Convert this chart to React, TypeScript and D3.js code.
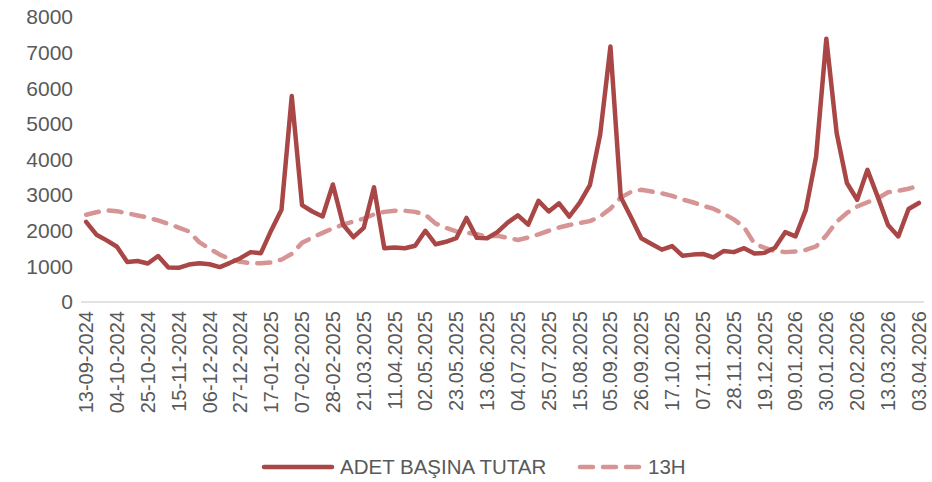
import React, { useEffect, useRef } from 'react';
import * as d3 from 'd3';

// weekly series, 13-09-2024 .. 03.04.2026 (82 weeks)
const adetBasinaTutar = [
  2250, 1890, 1730, 1550, 1120, 1150, 1080, 1290, 970, 960,
  1050, 1090, 1060, 980, 1100, 1230, 1400, 1370, 2010, 2590,
  5780, 2720, 2540, 2400, 3300, 2170, 1820, 2080, 3220, 1510,
  1530, 1510, 1580, 2000, 1620, 1690, 1790, 2360, 1800, 1790,
  1960, 2230, 2430, 2170, 2840, 2540, 2770, 2400, 2780, 3280,
  4700, 7170, 2950, 2380, 1790, 1630, 1470, 1570, 1300, 1330,
  1350, 1250, 1430, 1400, 1510, 1360, 1380, 1520, 1960, 1840,
  2580, 4070, 7390, 4750, 3340, 2870, 3710, 2950, 2160, 1840,
  2610, 2780,
];

const h13 = [
  2450, 2520, 2570, 2550, 2490, 2430, 2370, 2290, 2190, 2090,
  1980, 1680, 1500, 1330, 1200, 1130, 1090, 1090, 1110, 1190,
  1350, 1660, 1810, 1940, 2070, 2170, 2260, 2340, 2460, 2530,
  2560, 2560, 2530, 2450, 2200, 2080, 1980, 1950, 1900, 1840,
  1860, 1800, 1740, 1810, 1900, 2000, 2090, 2160, 2220, 2270,
  2400, 2620, 2930, 3090, 3150, 3100, 3050, 2980, 2880, 2800,
  2700, 2620, 2480, 2320, 2100, 1640, 1520, 1430, 1400, 1420,
  1460, 1560, 1870, 2250, 2500, 2680, 2800, 2910, 3080, 3120,
  3180, 3260,
];

// every third week is labelled
const tickLabels = [
  '13-09-2024', '04-10-2024', '25-10-2024', '15-11-2024', '06-12-2024',
  '27-12-2024', '17-01-2025', '07-02-2025', '28-02-2025', '21.03.2025',
  '11.04.2025', '02.05.2025', '23.05.2025', '13.06.2025', '04.07.2025',
  '25.07.2025', '15.08.2025', '05.09.2025', '26.09.2025', '17.10.2025',
  '07.11.2025', '28.11.2025', '19.12.2025', '09.01.2026', '30.01.2026',
  '20.02.2026', '13.03.2026', '03.04.2026',
];
const yTicks = [0, 1000, 2000, 3000, 4000, 5000, 6000, 7000, 8000];

const seriesNames = ['ADET BAŞINA TUTAR', '13H'];

export default function App() {
  const ref = useRef<HTMLDivElement>(null);

  useEffect(() => {
    const el = ref.current;
    if (!el) return;
    while (el.firstChild) el.removeChild(el.firstChild);

    const w = 932;
    const h = 482;
    const font = '"Liberation Sans Narrow", "Liberation Sans", sans-serif';
    const textColor = '#595959';
    const red = '#A94646';
    const pink = '#D69494';
    const dash = '13 10';

    const idx = d3.range(adetBasinaTutar.length);
    const x = d3.scaleBand<number>().domain(idx).range([81, 924]).padding(0);
    const cx = (i: number) => (x(i) ?? 0) + x.bandwidth() / 2;
    const y = d3.scaleLinear().domain([0, 8000]).range([302, 17]);

    const svg = d3
      .create('svg')
      .attr('width', w)
      .attr('height', h)
      .attr('viewBox', [0, 0, w, h].join(' '))
      .style('position', 'absolute')
      .style('left', '0px')
      .style('top', '0px')
      .style('font-family', font);

    svg.append('rect').attr('width', w).attr('height', h).attr('fill', '#fff');

    // y axis labels (no gridlines)
    svg
      .append('g')
      .selectAll('text')
      .data(yTicks)
      .join('text')
      .attr('x', 73)
      .attr('y', (d) => y(d))
      .attr('dy', '0.35em')
      .attr('text-anchor', 'end')
      .attr('fill', textColor)
      .attr('font-size', 21)
      .text((d) => String(d));

    // category axis line
    svg
      .append('line')
      .attr('x1', 81)
      .attr('x2', 924)
      .attr('y1', y(0))
      .attr('y2', y(0))
      .attr('stroke', '#D9D9D9')
      .attr('stroke-width', 1.5);

    // x labels, rotated
    svg
      .append('g')
      .selectAll('text')
      .data(tickLabels)
      .join('text')
      .attr('transform', (_, k) => `translate(${cx(k * 3)},311) rotate(-90)`)
      .attr('dy', '0.35em')
      .attr('text-anchor', 'end')
      .attr('fill', textColor)
      .attr('font-size', 20)
      .text((d) => d);

    const line = d3
      .line<number>()
      .x((_, i) => cx(i))
      .y((d) => y(d));

    svg
      .append('path')
      .datum(h13)
      .attr('d', line)
      .attr('fill', 'none')
      .attr('stroke', pink)
      .attr('stroke-width', 4.5)
      .attr('stroke-dasharray', dash)
      .attr('stroke-linecap', 'round')
      .attr('stroke-linejoin', 'round');

    svg
      .append('path')
      .datum(adetBasinaTutar)
      .attr('d', line)
      .attr('fill', 'none')
      .attr('stroke', red)
      .attr('stroke-width', 4.5)
      .attr('stroke-linecap', 'round')
      .attr('stroke-linejoin', 'round');

    // legend
    const leg = svg.append('g').attr('font-size', 20.5).attr('fill', textColor);
    leg
      .append('line')
      .attr('x1', 264)
      .attr('x2', 332)
      .attr('y1', 467)
      .attr('y2', 467)
      .attr('stroke', red)
      .attr('stroke-width', 4.5)
      .attr('stroke-linecap', 'round');
    leg
      .append('text')
      .attr('x', 340)
      .attr('y', 467)
      .attr('dy', '0.35em')
      .text(seriesNames[0]);
    leg
      .append('line')
      .attr('x1', 580)
      .attr('x2', 640)
      .attr('y1', 467)
      .attr('y2', 467)
      .attr('stroke', pink)
      .attr('stroke-width', 4.5)
      .attr('stroke-dasharray', '13 10')
      .attr('stroke-linecap', 'round');
    leg
      .append('text')
      .attr('x', 648)
      .attr('y', 467)
      .attr('dy', '0.35em')
      .text(seriesNames[1]);

    el.appendChild(svg.node() as SVGSVGElement);
  }, []);

  return <div ref={ref} style={{ width: 932, height: 482 }} />;
}
